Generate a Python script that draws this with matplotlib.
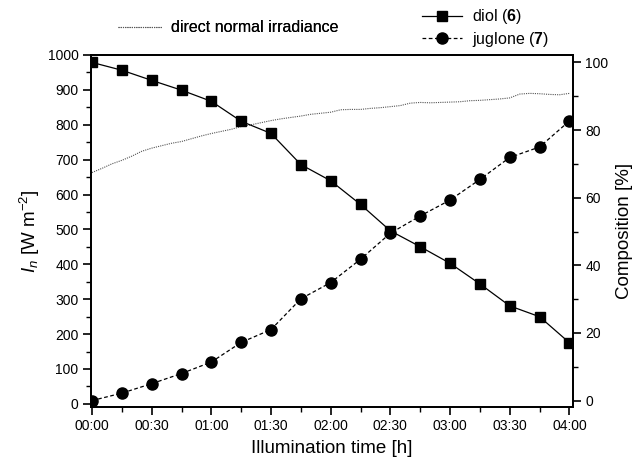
import matplotlib
matplotlib.use("Agg")
import matplotlib.pyplot as plt
from matplotlib.ticker import MultipleLocator, FuncFormatter

plt.rcParams['font.family'] = ['Liberation Sans', 'DejaVu Sans']
plt.rcParams['mathtext.fontset'] = 'custom'
plt.rcParams['mathtext.rm'] = 'Liberation Sans'
plt.rcParams['mathtext.it'] = 'Liberation Sans:italic'
plt.rcParams['mathtext.bf'] = 'Liberation Sans:bold'

# Sampling times of the composition measurements (minutes)
time_min = [0, 15, 30, 45, 60, 75, 90, 105, 120, 135, 150, 165, 180, 195, 210, 225, 240]
diol_pct = [100.0, 97.7, 94.7, 91.8, 88.5, 82.6, 79.0, 69.8, 65.0, 58.0, 50.2,
            45.5, 40.6, 34.5, 28.0, 24.8, 17.1]
juglone_pct = [0.0, 2.2, 5.0, 8.0, 11.4, 17.2, 21.0, 30.1, 34.9, 41.8, 49.5,
               54.6, 59.3, 65.4, 71.9, 75.0, 82.7]

# Direct normal irradiance logged every 5 minutes (W m^-2)
irr_time_min = list(range(0, 241, 5))
irr_wm2 = [663, 675, 688, 698, 710, 724, 733, 740, 747, 752, 760, 768, 775,
           781, 787, 795, 800, 806, 812, 817, 821, 825, 830, 833, 836, 843,
           844, 844, 847, 849, 852, 855, 862, 864, 863, 864, 865, 866, 869,
           870, 872, 874, 877, 888, 890, 889, 887, 886, 890]

W, H = 634, 463
fig = plt.figure(figsize=(W / 100, H / 100), dpi=100)
x0, x1, y0, y1 = 91, 573, 55, 407
ax = fig.add_axes([x0 / W, 1 - y1 / H, (x1 - x0) / W, (y1 - y0) / H])
ax2 = ax.twinx()

irr_line, = ax.plot(irr_time_min, irr_wm2, color='#555555', lw=0.8,
                    linestyle=(0, (1, 1)))
diol_line, = ax2.plot(time_min, diol_pct, color='black', lw=0.9, marker='s',
                      markersize=7.5, markerfacecolor='black')
jug_line, = ax2.plot(time_min, juglone_pct, color='black', lw=0.9,
                     linestyle=(0, (3, 2)), marker='o', markersize=8,
                     markerfacecolor='black')

ax.set_xlim(-0.5, 241.8)
ax.set_ylim(-9, 1000)
ax2.set_ylim(-1.9, 102.2)

ax.xaxis.set_major_locator(MultipleLocator(30))
ax.xaxis.set_minor_locator(MultipleLocator(15))
ax.xaxis.set_major_formatter(FuncFormatter(lambda v, p: f"{int(v) // 60:02d}:{int(v) % 60:02d}"))
ax.yaxis.set_major_locator(MultipleLocator(100))
ax.yaxis.set_minor_locator(MultipleLocator(50))
ax2.yaxis.set_major_locator(MultipleLocator(20))
ax2.yaxis.set_minor_locator(MultipleLocator(10))

for a in (ax, ax2):
    a.tick_params(which='major', direction='out', length=5.5, width=1.2,
                  labelsize=10, pad=3.5)
    a.tick_params(which='minor', direction='out', length=3.5, width=1.0)
    for s in a.spines.values():
        s.set_linewidth(1.3)
ax.tick_params(top=False, which='both')

ax.set_xlabel('Illumination time [h]', fontsize=13.5, labelpad=5)
ax.set_ylabel(r'$I_n$ [W m$^{-2}$]', fontsize=13.5, labelpad=4)
ax2.set_ylabel('Composition [%]', fontsize=13.5, labelpad=5)

leg_kw = dict(frameon=False, loc='center left', fontsize=11.5,
              borderpad=0, borderaxespad=0)
leg1 = fig.legend([irr_line], ['direct normal irradiance'],
                  bbox_to_anchor=(118 / W, 1 - 28 / H),
                  handlelength=2.75, handletextpad=0.56, **leg_kw)
fig.add_artist(leg1)
fig.legend([diol_line, jug_line], [r'diol ($\mathbf{6}$)', r'juglone ($\mathbf{7}$)'],
           bbox_to_anchor=(422 / W, 1 - 28 / H),
           handlelength=2.5, handletextpad=0.62, labelspacing=0.2, **leg_kw)

fig.savefig('out.png', dpi=100)
